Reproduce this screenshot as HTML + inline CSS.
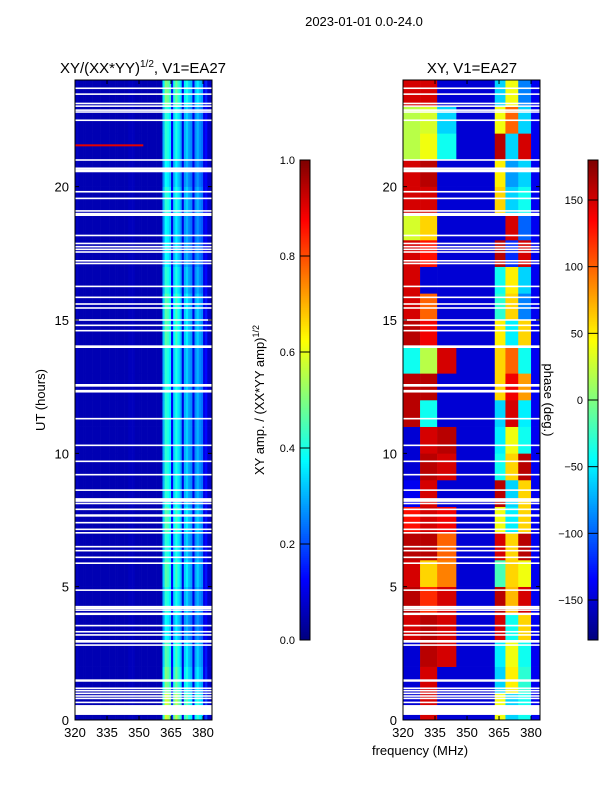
<!DOCTYPE html>
<html><head><meta charset="utf-8">
<style>
body{margin:0;background:#fff;}
svg text{font-family:"Liberation Sans","DejaVu Sans",sans-serif;fill:#000;}
</style></head>
<body>
<svg id="fig" width="600" height="800" viewBox="0 0 600 800" xmlns="http://www.w3.org/2000/svg">
<rect width="600" height="800" fill="#fff"/>
<text x="364" y="26" font-size="13" text-anchor="middle">2023-01-01 0.0-24.0</text>
<text x="143" y="73" font-size="15" text-anchor="middle">XY/(XX*YY)<tspan font-size="10" dy="-6">1/2</tspan><tspan dy="6">, V1=EA27</tspan></text>
<text x="472" y="73" font-size="15" text-anchor="middle">XY, V1=EA27</text>
<g id="left"></g>
<g id="right"></g>
<g id="axes"></g>
<text transform="translate(45,400) rotate(-90)" font-size="13" text-anchor="middle">UT (hours)</text>
<text x="420" y="755" font-size="13" text-anchor="middle">frequency (MHz)</text>
<text transform="translate(264,400) rotate(-90)" font-size="13" text-anchor="middle">XY amp. / (XX*YY amp)<tspan font-size="9" dy="-5">1/2</tspan></text>
<text transform="translate(544,400) rotate(90)" font-size="13" text-anchor="middle">phase (deg.)</text>
</svg>
<script>
// ---- data ----
const colFreqs = []; for (let f = 320; f <= 383; f++) colFreqs.push(f);
const colAmp = [0.06,0.06,0.05,0.05,0.05,0.05,0.05,0.05,0.05,0.05,0.05,0.05,0.05,0.05,0.05,0.05,0.05,0.05,0.05,0.05,
0.05,0.05,0.05,0.05,0.05,0.06,0.06,0.06,0.05,0.05,0.05,0.05,0.05,0.05,0.05,0.05,0.05,0.05,0.05,0.05,0.05,
0.3,0.42,0.4,0.36,0.12,0.34,0.4,0.35,0.3,0.1,0.3,0.33,0.28,0.26,0.1,0.26,0.3,0.26,0.24,0.1,0.13,0.07,0.07];
const hours = [];for (let h = 0; h < 24; h++) hours.push(h);
const rowGain = [1.4,1.2,1.1,0.9,1.0,1.1,1.0,1.1,1.0,1.0,1.0,1.0,1.0,1.0,1.1,1.1,1.0,0.9,0.9,1.0,0.9,1.0,1.0,1.2];
const flareHours = [21.55];
const flareAmp = [0.9];
// phase segments (MHz edges) and values per hour 0..23
const segStart = [320,328,336,345,363,368,374,380];
const segEnd   = [328,336,345,363,368,374,380,384.2];
const phaseA = [-150,-150,-150,150,160,150,160,130,-140,-150,-150,160,160,-40,160,150,150,150,30,150,150,20,20,150];
const phaseB = [150,150,160,160,120,60,160,150,150,160,150,-40,160,20,140,100,-150,130,60,150,160,40,30,150];
const phaseC = [-150,-150,150,150,150,90,100,140,-150,150,160,-150,-150,150,-150,-150,-150,-150,-150,-150,-150,-40,-60,-150];
const phaseD = [-150,-150,-150,-150,-150,-150,-150,-150,-150,-150,-150,-150,-150,-150,-150,-150,-150,-150,-150,-150,-150,-150,-150,-150];
const phaseE = [40,-60,-50,150,160,-20,150,40,160,-40,-50,-60,60,60,50,-30,-40,160,-150,60,50,160,40,-60];
const phaseF = [-60,50,40,-40,70,60,60,-50,-60,60,40,150,140,100,-50,60,50,-120,150,-60,-80,-60,100,40];
const phaseG = [-40,-30,-40,60,150,40,160,60,60,160,-40,-50,80,-40,60,-90,-60,150,-100,-40,-60,150,-60,-90];
const phaseH = [-140,-140,-140,-140,-140,-140,-140,-140,-140,-140,-140,-140,-140,-140,-140,-140,-140,-140,-140,-140,-140,-140,-140,-140];
const gapHours = [23.69,23.47,23.12,23.02,22.87,22.8,22.49,21.0,20.69,20.6,19.81,19.56,19.09,18.96,18.17,17.87,17.75,17.65,17.55,17.22,17.12,16.26,
15.85,15.6,15.45,15.0,14.8,14.6,14.0,12.55,12.33,11.3,10.3,9.7,9.2,
8.62,8.25,8.12,7.9,7.67,7.4,7.15,7.02,6.5,6.35,6.1,5.88,4.87,4.25,4.19,4.12,3.98,3.54,3.31,3.19,2.95,2.81,1.48,1.19,1.1,1.0,0.9,0.81,0.375,0.66];
const gapSpan = [0.06,0.06,0.06,0.06,0.06,0.06,0.06,0.06,0.06,0.12,0.06,0.06,0.06,0.12,0.06,0.06,0.06,0.06,0.06,0.06,0.06,0.06,
0.06,0.06,0.06,0.06,0.06,0.06,0.1,0.1,0.1,0.06,0.06,0.06,0.06,
0.06,0.14,0.06,0.06,0.09,0.06,0.06,0.06,0.06,0.06,0.06,0.06,0.06,0.06,0.06,0.06,0.09,0.06,0.06,0.06,0.1,0.06,0.09,0.06,0.06,0.06,0.06,0.06,0.37,0.06];
const xTicks = [320,335,350,365,380];
const yTicks = [0,5,10,15,20];
const ampTicks = [0.0,0.2,0.4,0.6,0.8,1.0];
const phaseTicks = [-150,-100,-50,0,50,100,150];

// ---- helpers ----
const NS = "http://www.w3.org/2000/svg";
const FMIN = 320, FMAX = 384.2, PW = 137, Y0 = 720, YH = 640;
const yScale = h => Y0 - h / 24 * YH;
const xLeft = f => 75 + (f - FMIN) / (FMAX - FMIN) * PW;
const xRight = f => 403 + (f - FMIN) / (FMAX - FMIN) * PW;
function jet(v){v=Math.max(0,Math.min(1,v));
  const c=x=>Math.max(0,Math.min(1,x));
  const r=c(1.5-Math.abs(4*v-3)), g=c(1.5-Math.abs(4*v-2)), b=c(1.5-Math.abs(4*v-1));
  return `rgb(${Math.round(r*255)},${Math.round(g*255)},${Math.round(b*255)})`;}
function rect(parent,x,y,w,h,fill){const r=document.createElementNS(NS,'rect');
  r.setAttribute('x',x);r.setAttribute('y',y);r.setAttribute('width',w);r.setAttribute('height',h);r.setAttribute('fill',fill);
  parent.appendChild(r);return r;}
function txt(parent,x,y,s,anchor){const t=document.createElementNS(NS,'text');
  t.setAttribute('x',x);t.setAttribute('y',y);t.setAttribute('font-size','13');t.setAttribute('text-anchor',anchor);t.textContent=s;parent.appendChild(t);return t;}

// ---- left heatmap ----
const L = document.getElementById('left');
hours.forEach((h,i)=>{
  colFreqs.forEach((f,j)=>{
    const a = colAmp[j];
    const v = a > 0.1 ? a*rowGain[i] : a;
    const x0 = xLeft(f), x1 = xLeft(Math.min(f+1,FMAX));
    const r = rect(L,x0,yScale(h+1),x1-x0+0.3,yScale(h)-yScale(h+1)+0.3,jet(v));
    
    
  });
});
flareHours.forEach((h,i)=>{
  const r = rect(L,xLeft(320),yScale(h)-1,xLeft(352)-xLeft(320),2,jet(flareAmp[i]));
  
  
});
// ---- right heatmap ----
const R = document.getElementById('right');
const phaseSegs = [phaseA,phaseB,phaseC,phaseD,phaseE,phaseF,phaseG,phaseH];
hours.forEach((h,i)=>{
  phaseSegs.forEach((arr,k)=>{
    const x0 = xRight(segStart[k]), x1 = xRight(segEnd[k]);
    const r = rect(R,x0,yScale(h+1),x1-x0+0.3,yScale(h)-yScale(h+1)+0.3,jet((arr[i]+180)/360));
    
    
  });
});
// ---- gaps ----
[[L,xLeft],[R,xRight]].forEach(([g,xs])=>{
  gapHours.forEach((h,i)=>{
    const y0 = yScale(h+gapSpan[i]/2), y1 = yScale(h-gapSpan[i]/2);
    const r = rect(g,xs(FMIN),y0,PW,Math.max(1.5,y1-y0),'#fff');
    
    
  });
});
// ---- axes ----
const A = document.getElementById('axes');
[[75,xLeft,true],[403,xRight,false]].forEach(([px,xs,isLeft])=>{
  const fr = rect(A,px,80,PW,640,'none');
  fr.setAttribute('stroke','#000');fr.setAttribute('stroke-width','1');
  
  
  xTicks.forEach(f=>{
    const x = xs(f);
    const l = document.createElementNS(NS,'path');
    l.setAttribute('d',`M${x} 720v-4M${x} 80v4`);l.setAttribute('stroke','#000');A.appendChild(l);
    const t = txt(A,x,737,String(f),'middle');
    
    
  });
  yTicks.forEach(h=>{
    const y = yScale(h);
    const l = document.createElementNS(NS,'path');
    l.setAttribute('d',`M${px} ${y}h4M${px+PW} ${y}h-4`);l.setAttribute('stroke','#000');A.appendChild(l);
    const t = txt(A,px-6,y+5,String(h),'end');
    
    
  });
});
// ---- colorbars ----
function colorbar(x,name,ticks,tmin,tmax){
  const g=document.createElementNS(NS,'g');A.appendChild(g);
  
  
  for(let i=0;i<240;i++){rect(g,x,640-(i+1)*2,10,2.2,jet(i/239));}
  const fr=rect(g,x,160,10,480,'none');fr.setAttribute('stroke','#000');
  ticks.forEach(v=>{
    const y=640-(v-tmin)/(tmax-tmin)*480;
    const l=document.createElementNS(NS,'path');l.setAttribute('d',`M${x} ${y}h10`);l.setAttribute('stroke','#000');g.appendChild(l);
    const t=txt(g,x-5,y+4,(name==='amplitude-colorbar'?v.toFixed(1):String(v).replace('-','\u2212')),'end');
    t.setAttribute('font-size','11');
    
    
  });
}
colorbar(300,'amplitude-colorbar',ampTicks,0,1);
colorbar(588,'phase-colorbar',phaseTicks,-180,180);
</script>
</body></html>
